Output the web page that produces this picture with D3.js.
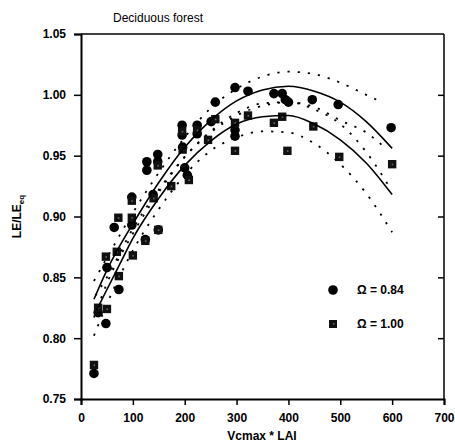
<!DOCTYPE html>
<html><head><meta charset="utf-8">
<script src="https://cdn.jsdelivr.net/npm/d3@7"></script>
<style>
body{margin:0;background:#fff;}
svg{display:block;font-family:"Liberation Sans",Arial,sans-serif;}
</style></head>
<body>
<svg id="chart" width="455" height="444"></svg>
<script>
// ---- data ----
const xTicks = [0,100,200,300,400,500,600,700];
const yTicks = [0.75,0.80,0.85,0.90,0.95,1.00,1.05];

// Omega = 0.84 (circles)
const circX = [25,33,48,50,64,73,98,98,124,127,127,139,148,148,149,195,195,196,200,205,224,224,251,259,297,297,297,322,372,388,394,400,446,496,598];
const circY = [0.771,0.821,0.812,0.858,0.891,0.840,0.893,0.916,0.881,0.945,0.938,0.918,0.951,0.945,0.889,0.975,0.967,0.957,0.940,0.934,0.975,0.968,0.978,0.994,1.006,0.971,0.966,1.003,1.001,1.001,0.996,0.994,0.996,0.992,0.973];

// Omega = 1.00 (squares)
const sqX = [25,33,50,48,69,72,73,98,98,100,124,140,148,149,174,196,195,208,224,245,259,297,297,322,372,388,398,448,498,600];
const sqY = [0.778,0.825,0.824,0.867,0.871,0.899,0.851,0.899,0.913,0.868,0.880,0.915,0.942,0.889,0.925,0.955,0.970,0.930,0.971,0.963,0.980,0.977,0.954,0.983,0.977,0.982,0.954,0.974,0.949,0.943];

// fitted curves
const fitX = [25,50,75,100,150,200,250,300,350,400,450,500,550,600];
const circFit = [0.832,0.856,0.876,0.894,0.928,0.957,0.979,0.995,1.004,1.007,1.003,0.994,0.978,0.956];
const sqFitX = [30,50,75,100,150,200,250,300,350,400,450,500,550,600];
const sqFit = [0.823,0.840,0.861,0.882,0.915,0.942,0.962,0.976,0.982,0.983,0.976,0.963,0.944,0.918];

// confidence bands (dotted)
const circUpX = [25,50,100,150,200,250,300,350,400,450,500,550,580];
const circUp  = [0.847,0.866,0.903,0.936,0.965,0.989,1.005,1.015,1.019,1.017,1.010,1.000,0.994];
const circLoX = [25,50,100,150,200,250,300,350,400,450,500,550,598];
const circLo  = [0.817,0.845,0.886,0.920,0.949,0.970,0.985,0.993,0.994,0.988,0.976,0.953,0.922];
const sqUpX = [28,50,100,150,200,250,300,350,400,450,500,550,585];
const sqUp  = [0.835,0.850,0.890,0.922,0.949,0.969,0.983,0.991,0.994,0.990,0.979,0.969,0.957];
const sqLoX = [25,50,100,150,200,250,300,350,400,450,500,550,600];
const sqLo  = [0.802,0.828,0.872,0.906,0.934,0.954,0.965,0.970,0.969,0.960,0.943,0.919,0.887];

const legendLabels = ["\u03A9 = 0.84","\u03A9 = 1.00"];

// ---- drawing ----
const svg = d3.select("#chart");
const x = d3.scaleLinear().domain([0,700]).range([81,444]);
const y = d3.scaleLinear().domain([0.75,1.05]).range([399,34]);

// frame top & right
svg.append("line").attr("x1",x(0)).attr("x2",x(700)).attr("y1",y(1.05)).attr("y2",y(1.05)).attr("stroke","#000").attr("stroke-width",1.5);
svg.append("line").attr("x1",x(700)).attr("x2",x(700)).attr("y1",y(1.05)).attr("y2",y(0.75)).attr("stroke","#000").attr("stroke-width",1.5);

// left axis
const yAxis = d3.axisLeft(y).tickValues(yTicks).tickFormat(d3.format(".2f")).tickSize(7).tickPadding(8);
const gy = svg.append("g").attr("transform",`translate(${x(0)},0)`).call(yAxis);
// right inward ticks
const gr = svg.append("g").attr("transform",`translate(${x(700)},0)`).call(d3.axisLeft(y).tickValues(yTicks.slice(1,6)).tickSize(6).tickFormat(""));
gr.select(".domain").remove();
// bottom axis
const xAxis = d3.axisBottom(x).tickValues(xTicks).tickFormat(d3.format("d")).tickSize(6).tickPadding(8);
const gx = svg.append("g").attr("transform",`translate(0,${y(0.75)})`).call(xAxis);

[gy,gx,gr].forEach(g=>{
  g.selectAll(".domain").attr("stroke","#000").attr("stroke-width",2);
  g.selectAll(".tick line").attr("stroke","#000").attr("stroke-width",1.5);
  g.selectAll("text").attr("font-size",12).attr("font-weight","bold").attr("fill","#000")
   .attr("font-family","'Liberation Sans',Arial,sans-serif");
});

// curves
const line = d3.line().x(d=>x(d[0])).y(d=>y(d[1])).curve(d3.curveMonotoneX);
function drawCurve(xs, ys, dotted){
  svg.append("path").datum(xs.map((v,i)=>[v,ys[i]]))
    .attr("d",line).attr("fill","none").attr("stroke","#000")
    .attr("stroke-width",dotted?1.8:1.6)
    .attr("stroke-dasharray",dotted?"2.2,8":null);
}
drawCurve(circUpX,circUp,true);
drawCurve(circLoX,circLo,true);
drawCurve(sqUpX,sqUp,true);
drawCurve(sqLoX,sqLo,true);

// points
const circData = circX.map((v,i)=>({x:v,y:circY[i]}));
const sqData = sqX.map((v,i)=>({x:v,y:sqY[i]}));
svg.append("g").selectAll("circle").data(circData).join("circle")
  .attr("cx",d=>x(d.x)).attr("cy",d=>y(d.y)).attr("r",4.8).attr("fill","#000");
const sq = svg.append("g").selectAll("g").data(sqData).join("g")
  .attr("transform",d=>`translate(${x(d.x)},${y(d.y)})`);
sq.append("rect").attr("x",-4.2).attr("y",-4.2).attr("width",8.4).attr("height",8.4).attr("fill","#111");
sq.append("rect").attr("x",-0.5).attr("y",-0.5).attr("width",1.6).attr("height",1.6).attr("fill","#666");

drawCurve(fitX,circFit,false);
drawCurve(sqFitX,sqFit,false);

// legend
const lg = svg.append("g");
lg.append("circle").attr("cx",333).attr("cy",290).attr("r",4.8).attr("fill","#000");
lg.append("rect").attr("x",329).attr("y",320).attr("width",8).attr("height",8).attr("fill","#111");
lg.append("rect").attr("x",333).attr("y",323).attr("width",1.6).attr("height",1.6).attr("fill","#666");
lg.selectAll("text").data(legendLabels).join("text")
  .attr("x",357).attr("y",(d,i)=>294+i*34)
  .attr("font-size",12).attr("font-weight","bold").text(d=>d);

// titles
svg.append("text").attr("x",113).attr("y",22).attr("font-size",12).text("Deciduous forest");
svg.append("text").attr("x",262).attr("y",440).attr("text-anchor","middle")
  .attr("font-size",12).attr("font-weight","bold").text("Vcmax * LAI");
const yt = svg.append("text").attr("transform",`translate(21,${(y(0.75)+y(1.05))/2}) rotate(-90)`)
  .attr("text-anchor","middle").attr("font-size",12).attr("font-weight","bold");
yt.append("tspan").text("LE/LE");
yt.append("tspan").attr("font-size",8).attr("dy",3).text("eq");
</script>
</body></html>
